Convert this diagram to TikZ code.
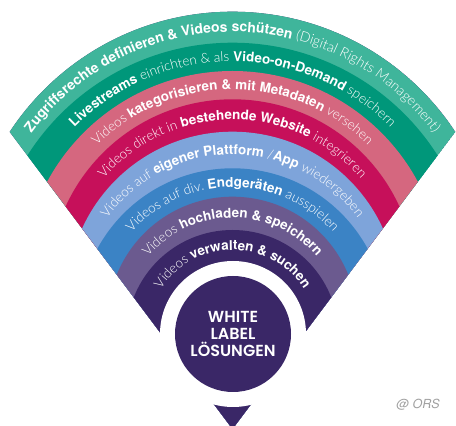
\documentclass[tikz,border=0pt]{standalone}
\usepackage{fontspec}
\setmainfont{TeX Gyre Heros}
\IfFontExistsTF{Poppins SemiBold}{\newfontfamily\pop{Poppins SemiBold}}{\newfontfamily\pop{Poppins}}
\IfFontExistsTF{Lato Light}{\newfontfamily\lightf{Lato Light}}{\newfontfamily\lightf{TeX Gyre Heros}}
\usetikzlibrary{decorations.text}
\definecolor{cTeal}{HTML}{3FB59B}
\definecolor{cGreen}{HTML}{00977A}
\definecolor{cPink}{HTML}{D5677F}
\definecolor{cMag}{HTML}{C6105A}
\definecolor{cLBlue}{HTML}{7EA4DA}
\definecolor{cBlue}{HTML}{3B83C5}
\definecolor{cPurp}{HTML}{6B5A8F}
\definecolor{cDark}{HTML}{3A2767}
\definecolor{cGray}{HTML}{A0A0A0}
\newcommand\bfx{\fontsize{13.5}{15}\selectfont\bfseries}
\newcommand\ltx{\fontsize{13.5}{15}\selectfont\lightf}
\newcommand\bfo{\fontsize{14}{16}\selectfont\bfseries}
\newcommand\lto{\fontsize{14}{16}\selectfont\lightf}
\tikzset{
  bandtext/.style={decorate, decoration={text along path, text align=center, text color=white, text={#1}}}
}
\begin{document}
\begin{tikzpicture}[x=1pt,y=1pt]
\useasboundingbox (0,0) rectangle (456,426);
\begin{scope}
\clip (232.5,-3) -- (-307.5,717) -- (772.5,717) -- cycle;
\clip (232.5,147.7) circle (266.6);
\fill[cDark] (232.5,-3) -- (-307.5,717) -- (772.5,717) -- cycle;
\fill[cTeal]  (232.5,147.7) circle (266.6);
\fill[cGreen] (232.5,140.4) circle (242.9);
\fill[cPink]  (232.5,144.6) circle (210.4);
\fill[cMag]   (232.5,143.2) circle (183.5);
\fill[cLBlue] (232.5,129.1) circle (165.2);
\fill[cBlue]  (232.5,104.0) circle (153.7);
\fill[cPurp]  (232.5,104.5) circle (124.8);
\fill[cDark]  (232.5,90.0) circle (106);
\end{scope}
\fill[white] (233,92) circle (73);
\node[circle, fill=cDark, minimum size=116pt, inner sep=0pt, text=white, align=center,
  font=\pop\fontsize{16}{17}\selectfont] (core) at (233,92) {WHITE\\LABEL\\LÖSUNGEN};
\path[bandtext={|\bfo|Zugriffsrechte definieren {\&} Videos schützen |\lto|(Digital Rights Management)}]
  (232.5,144.05) ++(170:250) arc[start angle=170, end angle=10, radius=250];
\path[bandtext={|\bfx|Livestreams |\ltx|einrichten {\&} als |\bfx|Video-on-Demand |\ltx|speichern}]
  (232.5,142.5) ++(170:222) arc[start angle=170, end angle=10, radius=222];
\path[bandtext={|\ltx|Videos |\bfx|kategorisieren {\&} mit Metadaten |\ltx|versehen}]
  (232.5,143.9) ++(170:192.5) arc[start angle=170, end angle=10, radius=192.5];
\path[bandtext={|\ltx|Videos direkt in |\bfx|bestehende Website |\ltx|integrieren}]
  (232.5,136.15) ++(170:170) arc[start angle=170, end angle=10, radius=170];
\path[bandtext={|\ltx|Videos auf |\bfx|eigener Plattform |\ltx|/|\bfx|App |\ltx|wiedergeben}]
  (232.5,116.55) ++(170:155) arc[start angle=170, end angle=10, radius=155];
\path[bandtext={|\ltx|Videos auf div. |\bfx|Endgeräten |\ltx|ausspielen}]
  (232.5,104.25) ++(170:134.7) arc[start angle=170, end angle=10, radius=134.7];
\path[bandtext={|\ltx|Videos |\bfx|hochladen {\&} speichern}]
  (232.5,97.25) ++(170:111) arc[start angle=170, end angle=10, radius=111];
\path[bandtext={|\ltx|Videos |\bfx|verwalten {\&} suchen}]
  (232.5,91) ++(170:85) arc[start angle=170, end angle=10, radius=85];
\node[text=cGray, font=\fontsize{12.5}{14}\selectfont\itshape] (credit) at (418,21) {@ ORS};
\end{tikzpicture}
\end{document}
